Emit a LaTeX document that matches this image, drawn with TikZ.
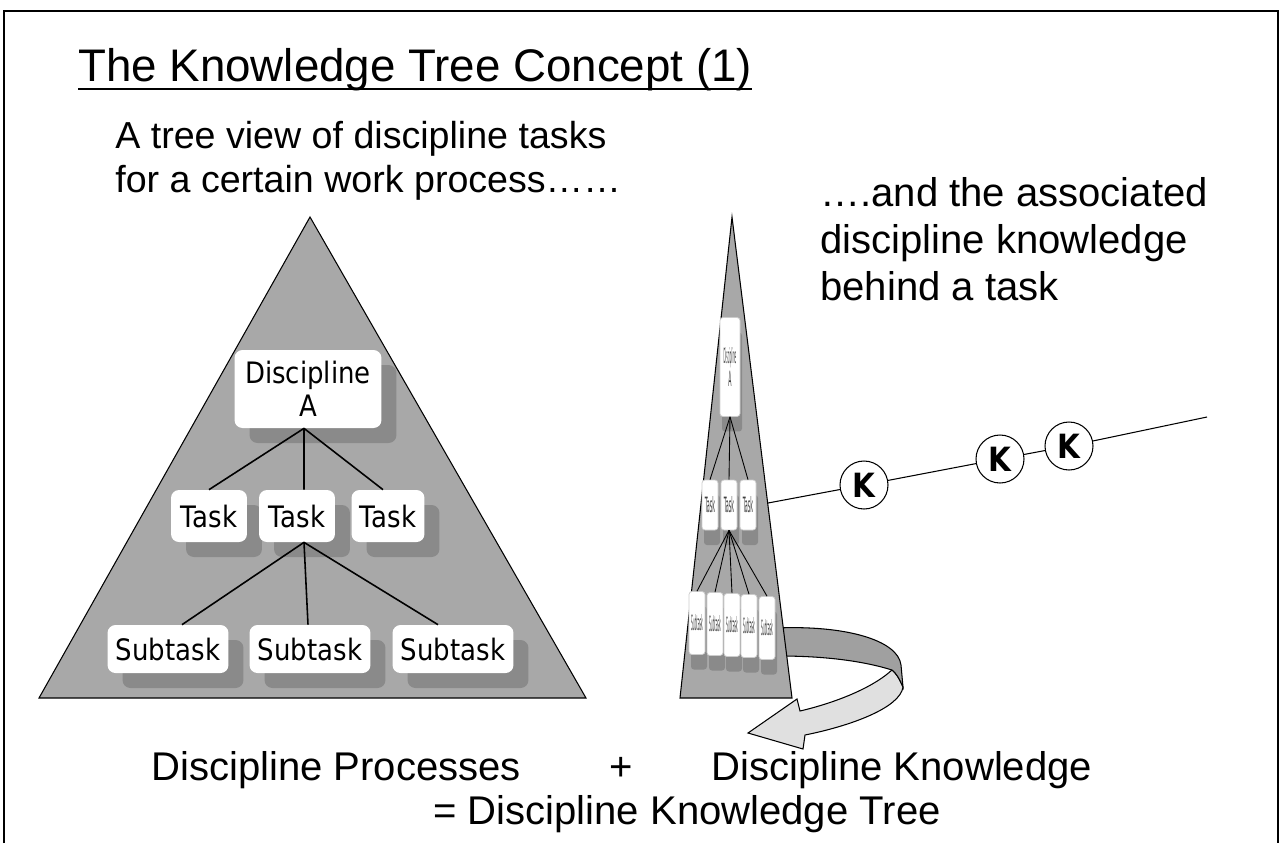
\documentclass[tikz,border=0pt]{standalone}
\usepackage{fontspec}
\usepackage{graphicx}
\setmainfont{Liberation Sans}
\newfontfamily\boxfont[FakeStretch=0.88]{DejaVu Sans}
\usetikzlibrary{shadows}
\definecolor{trigray}{RGB}{168,168,168}
\definecolor{shadgray}{RGB}{138,138,138}
\definecolor{ribdark}{RGB}{160,160,160}
\definecolor{riblight}{RGB}{224,224,224}
\newcommand\ttlsize{\fontsize{26}{30}\selectfont}
\newcommand\txtsize{\fontsize{22.8}{28.4}\selectfont}
\newcommand\lftsize{\fontsize{21.4}{26}\selectfont}
\newcommand\squeeze[2]{\scalebox{#1}[1]{#2}}

\begin{document}
\begin{tikzpicture}[x=0.02cm, y=-0.02cm,
    treebox/.style={fill=white, rounded corners=0.16cm, align=center, inner sep=0pt,
        font=\boxfont\fontsize{16.8}{18.8}\selectfont,
        drop shadow={shadow xshift=0.3cm, shadow yshift=-0.3cm, fill=shadgray, opacity=1}},
    smallbox/.style={fill=white, draw=gray!40, rounded corners=0.06cm, inner sep=0pt, align=center,
        font=\boxfont\fontsize{12}{13}\selectfont, text=black!75,
        drop shadow={shadow xshift=0.04cm, shadow yshift=-0.3cm, fill=shadgray, opacity=1}},
    kcircle/.style={circle, draw, line width=0.6pt, fill=white, minimum size=0.96cm, inner sep=0pt,
        font=\boxfont\bfseries\fontsize{19}{19}\selectfont},
    bigtext/.style={anchor=base west, inner sep=0pt, font=\txtsize}]

    \useasboundingbox (0,0) rectangle (1282,843);

    % Slide frame
    \draw[line width=0.8pt] (4,843) -- (4,11) -- (1278,11) -- (1278,843);

    % Title
    \node[anchor=base west, inner sep=0pt, font=\ttlsize] (ttl) at (78,81) {The Knowledge Tree Concept (1)};
    \draw[line width=1.1pt] ([yshift=-0.16cm]ttl.base west) -- ([yshift=-0.16cm]ttl.base east);

    % Texts
    \node[bigtext, font=\lftsize] (lt1) at (115,148) {A tree view of discipline tasks};
    \node[bigtext, font=\lftsize] (lt2) at (115,192) {for a certain work process……};
    \node[bigtext] (rt1) at (820,206) {….and the associated};
    \node[bigtext] (rt2) at (820,253) {discipline knowledge};
    \node[bigtext] (rt3) at (820,300) {behind a task};

    % Turning arrow
    \draw[fill=riblight, line width=0.6pt] (892,670) .. controls (870,690) and (830,704) .. (800,711)
        -- (797,699) -- (748,733) -- (803,749) -- (805,735)
        .. controls (850,726) and (900,708) .. (903,687)
        .. controls (899,678) and (896,673) .. (892,670) -- cycle;
    \draw[fill=ribdark, line width=0.6pt] (776,628) .. controls (845,625) and (898,640) .. (901,665)
        -- (903,687) .. controls (899,678) and (896,673) .. (892,670)
        .. controls (860,660) and (820,656) .. (779,656) -- cycle;

    % Triangles
    \draw[fill=trigray, line width=0.6pt] (310,217) -- (39,698) -- (586,698) -- cycle;
    \draw[fill=trigray, line width=0.6pt] (732,217) -- (680,698) -- (792,698) -- cycle;

    % Big tree
    \node[treebox, minimum width=2.94cm, minimum height=1.56cm] (disc) at (308,389) {Discipline\\A};
    \node[treebox, minimum width=1.52cm, minimum height=1.04cm] (taskA) at (209,516) {Task};
    \node[treebox, minimum width=1.52cm, minimum height=1.04cm] (taskB) at (297,516) {Task};
    \node[treebox, minimum width=1.46cm, minimum height=1.04cm] (taskC) at (388,516) {Task};
    \node[treebox, minimum width=2.42cm, minimum height=0.96cm] (subA) at (168,649) {Subtask};
    \node[treebox, minimum width=2.42cm, minimum height=0.96cm] (subB) at (310,649) {Subtask};
    \node[treebox, minimum width=2.42cm, minimum height=0.96cm] (subC) at (453,649) {Subtask};

    \draw[line width=0.9pt] ([xshift=-0.08cm]disc.south) -- (taskA.north);
    \draw[line width=0.9pt] ([xshift=-0.08cm]disc.south) -- ([xshift=0.14cm]taskB.north);
    \draw[line width=0.9pt] ([xshift=-0.08cm]disc.south) -- ([xshift=-0.1cm]taskC.north);
    \draw[line width=0.9pt] ([xshift=0.14cm]taskB.south) -- ([xshift=0.28cm]subA.north);
    \draw[line width=0.9pt] ([xshift=0.14cm]taskB.south) -- ([xshift=-0.04cm]subB.north);
    \draw[line width=0.9pt] ([xshift=0.14cm]taskB.south) -- ([xshift=-0.3cm]subC.north);

    % Small tree
    \node[smallbox, minimum width=0.4cm, minimum height=1.98cm] (sdisc) at (730,367)
        {\squeeze{0.14}{Discipline}\\\squeeze{0.25}{A}};
    \foreach \i/\x in {1/710, 2/729, 3/748}
        \node[smallbox, minimum width=0.32cm, minimum height=1.0cm] (stask\i) at (\x,505) {\squeeze{0.26}{Task}};
    \foreach \i/\x/\y in {1/697/623, 2/715/624, 3/732/625, 4/749/626, 5/767/628}
        \node[smallbox, minimum width=0.32cm, minimum height=1.26cm] (ssub\i) at (\x,\y) {\squeeze{0.16}{Subtask}};

    \foreach \i in {1,2,3}
        \draw[line width=0.5pt] (sdisc.south) -- (stask\i.north);
    \foreach \i in {1,...,5}
        \draw[line width=0.5pt] (stask2.south) -- (ssub\i.north);

    % Knowledge line
    \coordinate (kstart) at (768,503);
    \coordinate (kend) at (1207,417);
    \node[kcircle] (k1) at (864,485) {K};
    \node[kcircle] (k2) at (1000,459) {K};
    \node[kcircle] (k3) at (1069,446) {K};
    \draw[line width=0.6pt] (kstart) -- (k1) -- (k2) -- (k3) -- (kend);

    % Bottom equation
    \node[bigtext] (bt1) at (151,780) {Discipline Processes};
    \node[anchor=base, inner sep=0pt, font=\txtsize] (plus) at (621,780) {+};
    \node[bigtext] (bt2) at (711,780) {Discipline Knowledge};
    \node[bigtext] (bt3) at (433,824) {= Discipline Knowledge Tree};
\end{tikzpicture}
\end{document}
